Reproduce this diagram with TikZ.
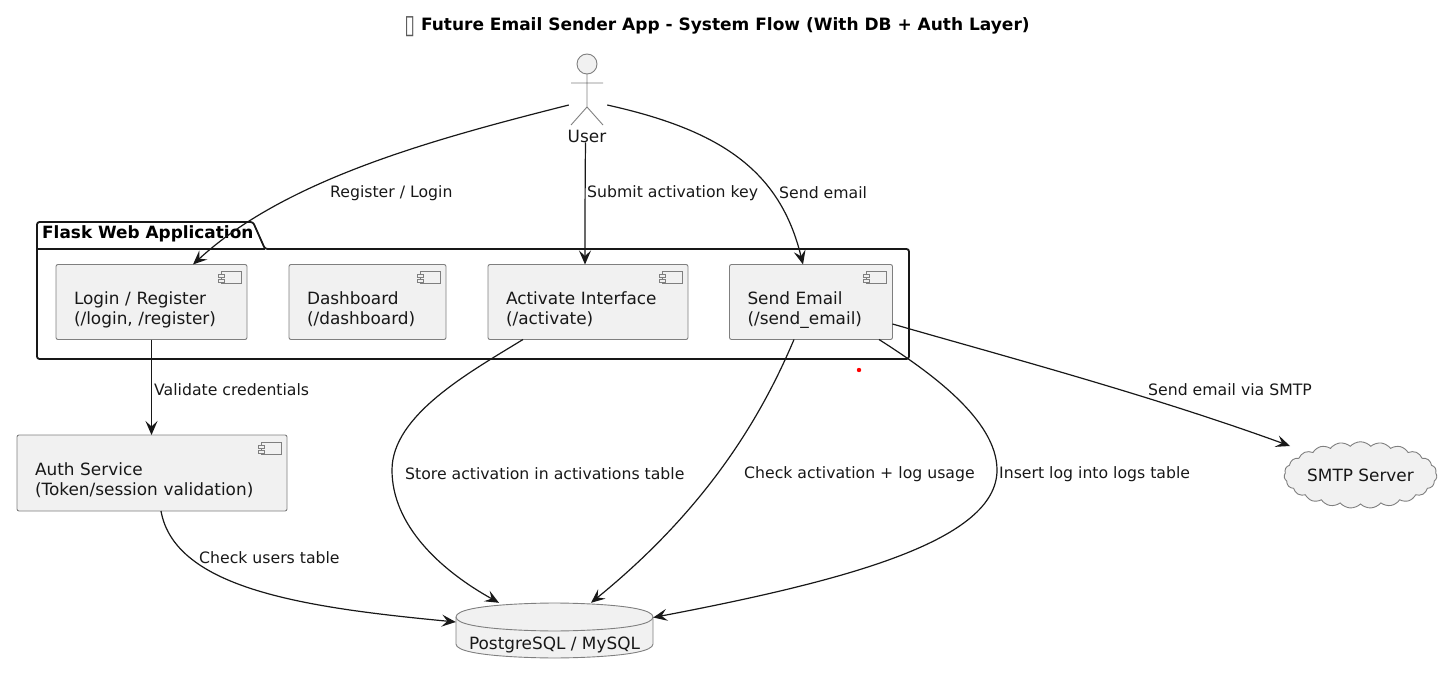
\documentclass[tikz,border=0pt]{standalone}
\usepackage{fontspec}
\setmainfont{DejaVu Sans}
\usetikzlibrary{arrows.meta,shapes.symbols}
\definecolor{boxfill}{HTML}{F1F1F1}
\definecolor{boxline}{HTML}{7F7F7F}
\definecolor{inkline}{HTML}{181818}
\newcommand{\topgap}{\rule{0pt}{28pt}}
\tikzset{
	comp/.style={draw=boxline,fill=boxfill,line width=0.9pt,rounded corners=2pt,inner xsep=18pt,inner ysep=0pt,outer sep=0pt,minimum height=75pt,align=left,font=\fontsize{16.9}{20}\selectfont},
	edgelbl/.style={anchor=west,inner sep=0pt,font=\fontsize{15.7}{18}\selectfont},
	shapelbl/.style={inner sep=0pt,font=\fontsize{16.9}{20}\selectfont},
	edge/.style={->,draw=inkline,line width=1.2pt}
}
\begin{document}
\begin{tikzpicture}[x=1pt,y=-1pt,text=inkline,>={Stealth[length=14pt,width=12pt,inset=5.5pt]}]
	\useasboundingbox (0,0) rectangle (1441,687);
	\node[inner sep=0pt,text=black,font=\bfseries\fontsize{17}{18}\selectfont] (title) at (717,26.5) {\textcolor{black!65}{\raisebox{-3pt}{\scalebox{1.15}[1.55]{▯}}} Future Email Sender App - System Flow (With DB + Auth Layer)};

	\path[draw=inkline,line width=1.8pt,rounded corners=2.5pt] (37,249) -- (37,222) -- (253,222) -- (265,249) -- (909,249) -- (909,359) -- (37,359) -- cycle;
	\path[draw=inkline,line width=1.8pt] (37,249) -- (265,249);
	\node[anchor=west,inner sep=0pt,text=black,font=\bfseries\fontsize{16.9}{18}\selectfont] (flask) at (42,234) {Flask Web Application};

	\node[comp,text width=155pt] (login) at (151.5,302) {\topgap Login / Register\\(/login, /register)};
	\node[comp,text width=121pt] (dash) at (367.5,302) {\topgap Dashboard\\(/dashboard)};
	\node[comp,text width=164pt] (activate) at (588,302) {\topgap Activate Interface\\(/activate)};
	\node[comp,text width=127pt] (send) at (811,302) {\topgap Send Email\\(/send\_email)};
	\node[comp,text width=234pt,minimum height=76pt] (auth) at (152,473) {\topgap Auth Service\\(Token/session validation)};

	\foreach \n in {login,dash,activate,send,auth} {
		\path[draw=boxline,fill=boxfill,line width=0.9pt,shift={(\n.north east)}] (-26,7) rectangle (-6,19);
		\path[draw=boxline,fill=boxfill,line width=0.9pt,shift={(\n.north east)}] (-29,10) rectangle (-23,13);
		\path[draw=boxline,fill=boxfill,line width=0.9pt,shift={(\n.north east)}] (-29,15) rectangle (-23,18);
	}

	\path[draw=boxline,fill=boxfill,line width=0.9pt] (587,64) circle (10);
	\path[draw=boxline,line width=0.9pt] (587,74) -- (587,107) (571,83) -- (603,83) (571,125) -- (587,107) -- (603,125);
	\node[inner sep=0pt] (actor) [minimum width=38pt,minimum height=70pt] at (588,90) {};
	\node[shapelbl] (user) at (587,136) {User};

	\path[draw=boxline,fill=boxfill,line width=0.9pt] (456,617) .. controls (456,603) and (554.5,603) .. (554.5,603) .. controls (554.5,603) and (653,603) .. (653,617) -- (653,644) .. controls (653,658) and (554.5,658) .. (554.5,658) .. controls (554.5,658) and (456,658) .. (456,644) -- cycle;
	\path[draw=boxline,line width=0.9pt] (456,617) .. controls (456,631) and (554.5,631) .. (554.5,631) .. controls (554.5,631) and (653,631) .. (653,617);
	\node[minimum width=197pt,minimum height=55pt,inner sep=0pt,font=\fontsize{16.9}{20}\selectfont] (db) at (554.5,630.5) {\rule{0pt}{42pt}PostgreSQL / MySQL};

	\node[cloud,cloud puffs=23,cloud puff arc=95,aspect=2.6,draw=boxline,fill=boxfill,line width=0.9pt,inner sep=0pt,minimum width=132pt,minimum height=46pt,font=\fontsize{16.9}{20}\selectfont] (smtp) at (1360.5,475) {SMTP Server};

	\path[edge] ([yshift=-15pt]actor.west) .. controls (430,140) and (285,180) .. ([xshift=41.5pt]login.north);
	\path[edge] ([xshift=-1.5pt]user.south) .. controls (585,190) and (585,230) .. ([xshift=-3pt]activate.north);
	\path[edge] ([yshift=-15pt]actor.east) .. controls (720,130) and (780,170) .. ([xshift=-8pt]send.north);
	\path[edge] (login.south) -- ([xshift=-0.5pt]auth.north);
	\path[edge] ([xshift=-65pt]activate.south) .. controls (470,372) and (392,415) .. (392,470) .. controls (392,525) and (440,570) .. ([xshift=-55.5pt]db.north);
	\path[edge] ([xshift=-17pt]send.south) .. controls (760,420) and (705,510) .. ([xshift=36.5pt]db.north);
	\path[edge] ([xshift=68pt]send.south) .. controls (930,372) and (997,420) .. (997,470) .. controls (997,540) and (850,580) .. ([yshift=13pt]db.east);
	\path[edge] ([yshift=-22pt]send.east) .. controls (1000,355) and (1150,395) .. ([xshift=-70.5pt,yshift=29pt]smtp.center);
	\path[edge] ([xshift=9pt]auth.south) .. controls (175,590) and (310,608) .. ([yshift=8.5pt]db.west);

	\node[edgelbl] (lblreg) at (330,193) {Register / Login};
	\node[edgelbl] (lblkey) at (587,193) {Submit activation key};
	\node[edgelbl] (lblsend) at (779,193) {Send email};
	\node[edgelbl] (lblcred) at (154,390) {Validate credentials};
	\node[edgelbl] (lblstore) at (405,474) {Store activation in activations table};
	\node[edgelbl] (lblcheck) at (744,474) {Check activation + log usage};
	\node[edgelbl] (lbllog) at (999,474) {Insert log into logs table};
	\node[edgelbl] (lblsmtp) at (1148,390) {Send email via SMTP};
	\node[edgelbl] (lblusers) at (199,558) {Check users table};

	\path[fill=red] (859,370) circle (2.2);
\end{tikzpicture}
\end{document}
